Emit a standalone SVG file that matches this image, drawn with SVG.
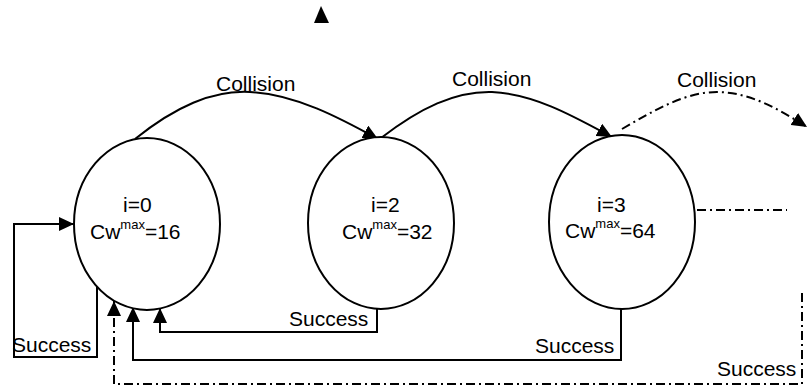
<svg xmlns="http://www.w3.org/2000/svg" width="809" height="389" viewBox="0 0 809 389">
<defs>
<marker id="ah" markerUnits="userSpaceOnUse" markerWidth="16" markerHeight="14" refX="15" refY="7" orient="auto">
<path d="M0,0 L15,7 L0,14 z" fill="#000"/>
</marker>
<style>
text{font-family:"Liberation Sans",Arial,sans-serif;font-size:21px;fill:#000}
.sup{font-size:13px}
.node ellipse{fill:#fff;stroke:#000;stroke-width:2}
.c{fill:none;stroke:#000;stroke-width:2}
.dd{stroke-dasharray:9 4 2 4}
</style>
</defs>
<rect width="809" height="389" fill="#fff"/>
<g id="connectors">
<polygon points="321,6 329,23 314,23" fill="#000"/>
<path class="c" d="M135,139 C175,107 212,90 250,92 C295,94 340,118 378,139" marker-end="url(#ah)"/>
<path class="c" d="M381,138 C420,108 455,91 492,92 C535,94 575,117 612,137" marker-end="url(#ah)"/>
<path class="c dd" d="M622,129 C655,110 685,92 717,92 C750,92 780,110 807,127" marker-end="url(#ah)"/>
<path class="c" d="M97,286 V357 H14 V224 H74" marker-end="url(#ah)"/>
<path class="c" d="M377,307 V332 H160 V308" marker-end="url(#ah)"/>
<path class="c" d="M621,308 V360 H133 V307" marker-end="url(#ah)"/>
<path class="c dd" d="M802,293 V384 H114 V301" marker-end="url(#ah)"/>
<path class="c dd" d="M697,210 H787"/>
</g>
<g id="n0" class="node">
<ellipse cx="147" cy="224" rx="73" ry="86"/>
<text x="123" y="212">i=0</text>
<text x="90" y="239">Cw<tspan class="sup" dy="-10">max</tspan><tspan dy="10">=16</tspan></text>
</g>
<g id="n2" class="node">
<ellipse cx="381" cy="223" rx="73" ry="86"/>
<text x="371" y="212">i=2</text>
<text x="342" y="239">Cw<tspan class="sup" dy="-10">max</tspan><tspan dy="10">=32</tspan></text>
</g>
<g id="n3" class="node">
<ellipse cx="622" cy="222" rx="73" ry="87"/>
<text x="597" y="212">i=3</text>
<text x="565" y="238">Cw<tspan class="sup" dy="-10">max</tspan><tspan dy="10">=64</tspan></text>
</g>
<g id="labels">
<text x="216" y="91">Collision</text>
<text x="452" y="86">Collision</text>
<text x="677" y="87">Collision</text>
<text x="12" y="352">Success</text>
<text x="289" y="326">Success</text>
<text x="535" y="353">Success</text>
<text x="717" y="376">Success</text>
</g>
</svg>
